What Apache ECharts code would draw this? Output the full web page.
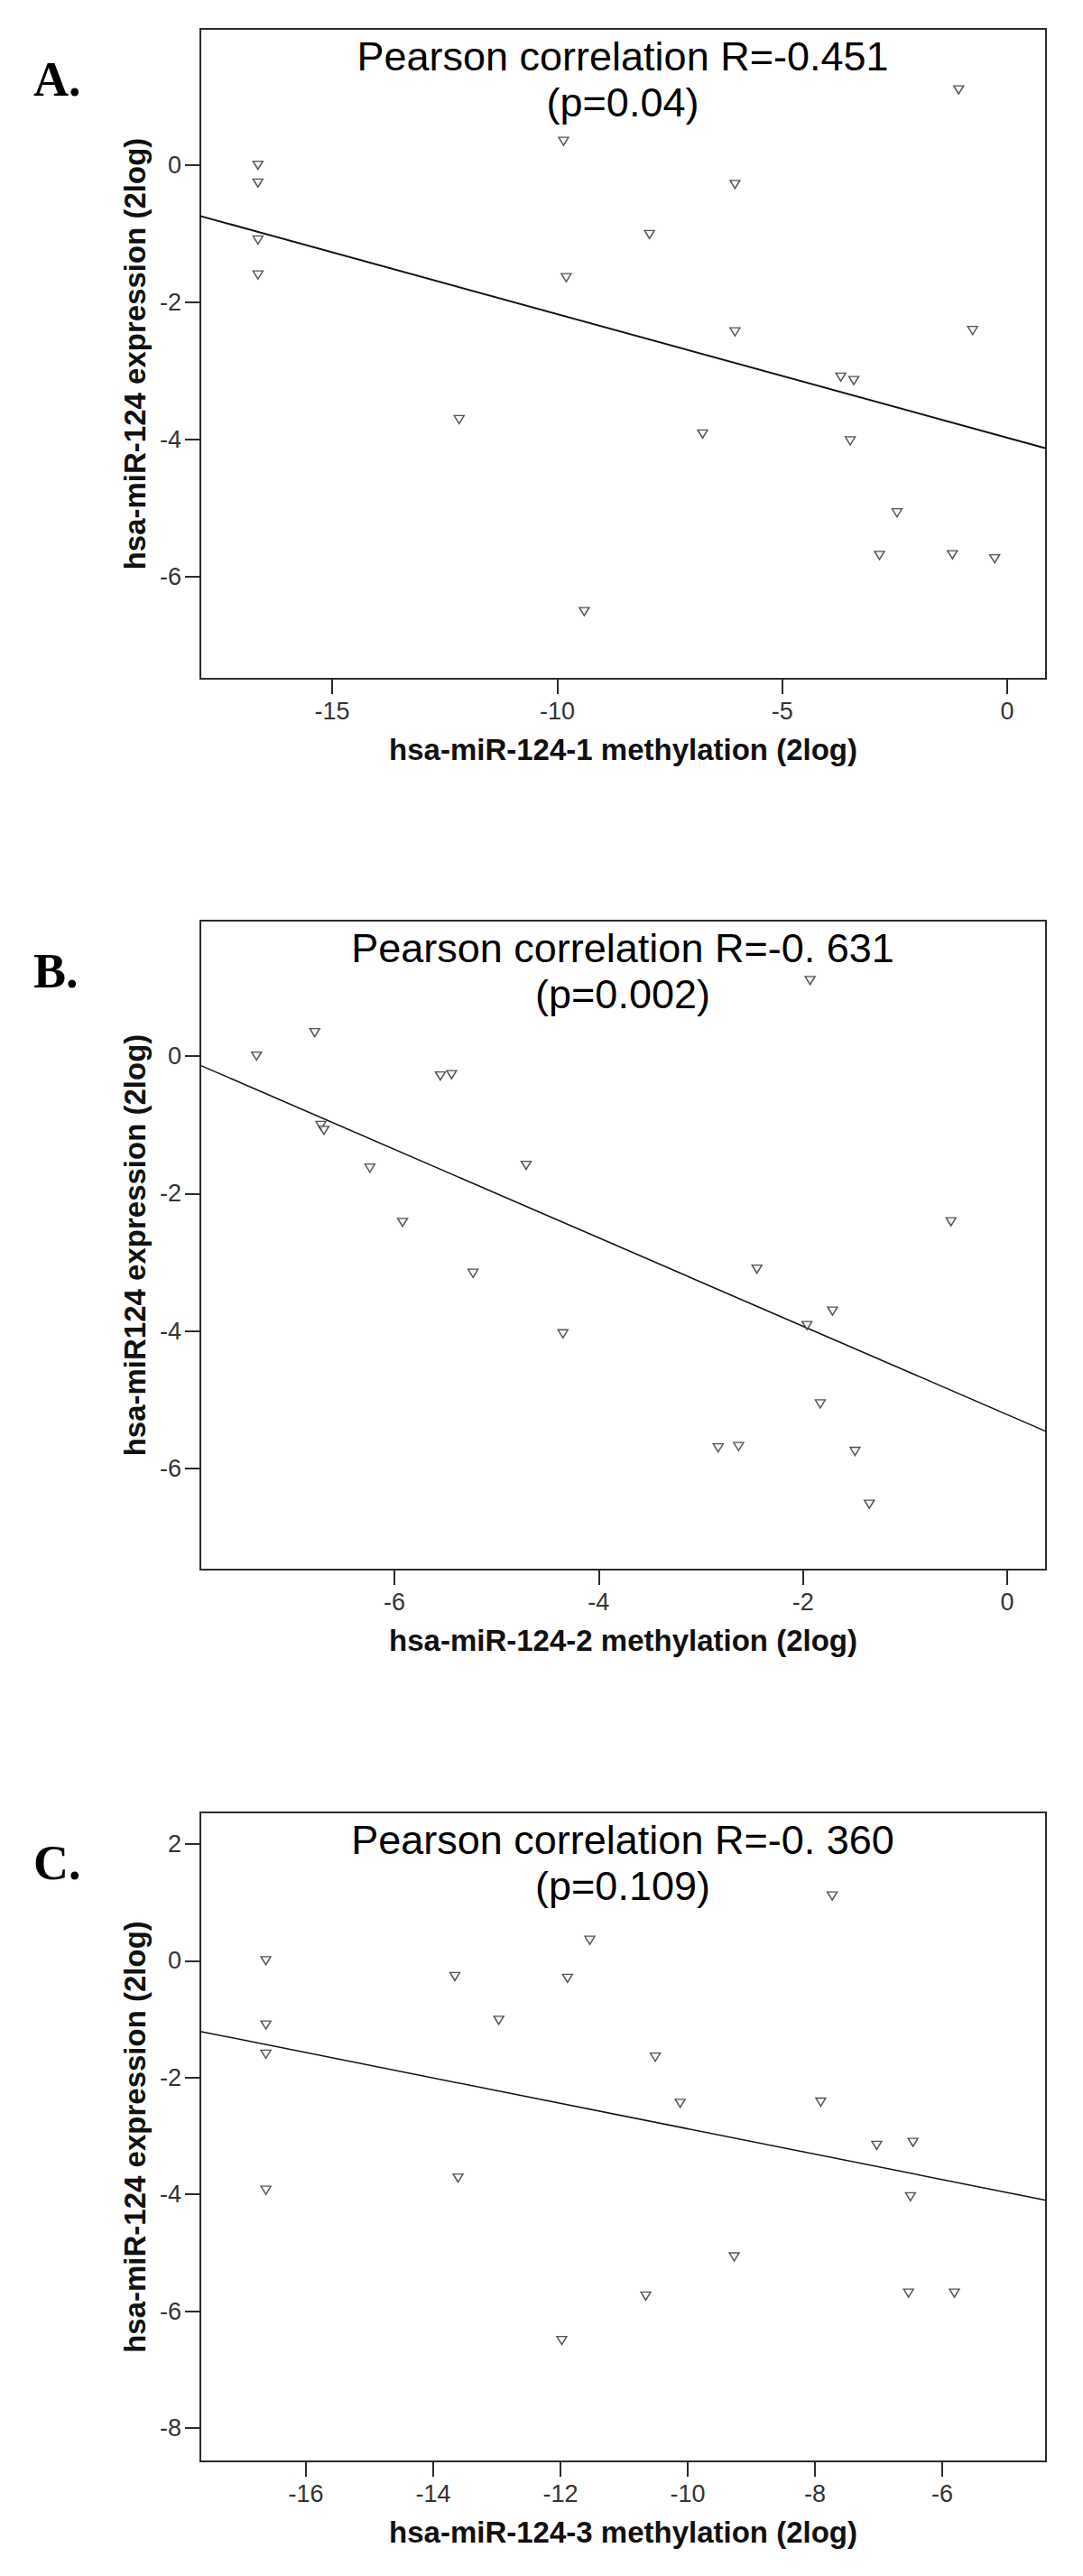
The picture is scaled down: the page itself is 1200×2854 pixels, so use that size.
<!DOCTYPE html>
<html><head><meta charset="utf-8">
<script src="https://cdn.jsdelivr.net/npm/echarts@6/dist/echarts.min.js"></script>
<style>html,body{margin:0;padding:0;background:#fff}#c{width:1200px;height:2854px}</style>
</head><body><div id="c"></div>
<script>
// ---- text ----
const panelLabels = ['A.', 'B.', 'C.'];
const titleR = ['Pearson correlation R=-0.451', 'Pearson correlation R=-0. 631', 'Pearson correlation R=-0. 360'];
const titleP = ['(p=0.04)', '(p=0.002)', '(p=0.109)'];
const xNames = ['hsa-miR-124-1 methylation (2log)', 'hsa-miR-124-2 methylation (2log)', 'hsa-miR-124-3 methylation (2log)'];
const yNames = ['hsa-miR-124 expression (2log)', 'hsa-miR124 expression (2log)', 'hsa-miR-124 expression (2log)'];

// ---- axis ranges & ticks ----
const xRangeA = [-17.93, 0.86];
const xRangeB = [-7.9, 0.38];
const xRangeC = [-17.66, -4.37];
const yRangeA = [-7.49, 1.99];
const yRangeB = [-7.47, 1.97];
const yRangeC = [-8.57, 2.54];
const xTicksA = [-15, -10, -5, 0];
const xTicksB = [-6, -4, -2, 0];
const xTicksC = [-16, -14, -12, -10, -8, -6];
const yTicksA = [-6, -4, -2, 0];
const yTicksB = [-6, -4, -2, 0];
const yTicksC = [-8, -6, -4, -2, 0, 2];

// ---- data (methylation, expression) ----
const pointsA = [
  [-16.65, 0.0], [-16.65, -0.26], [-16.65, -1.09], [-16.65, -1.60],
  [-9.86, 0.35], [-9.80, -1.64], [-7.95, -1.01], [-12.18, -3.71],
  [-6.05, -0.28], [-6.05, -2.43], [-6.77, -3.92], [-9.40, -6.51],
  [-3.70, -3.09], [-3.41, -3.14], [-3.49, -4.02], [-2.45, -5.07],
  [-2.84, -5.69], [-1.22, -5.68], [-0.28, -5.74], [-0.77, -2.41], [-1.08, 1.10]
];
const pointsB = [
  [-7.35, 0.0], [-6.78, 0.34], [-6.72, -1.01], [-6.69, -1.08],
  [-6.24, -1.63], [-5.92, -2.42], [-5.55, -0.29], [-5.44, -0.27],
  [-5.23, -3.16], [-4.71, -1.59], [-4.35, -4.04], [-2.83, -5.70],
  [-2.63, -5.68], [-2.45, -3.10], [-1.96, -3.92], [-1.93, 1.10],
  [-1.71, -3.71], [-1.83, -5.06], [-1.49, -5.75], [-1.35, -6.52], [-0.55, -2.41]
];
const pointsC = [
  [-16.63, 0.0], [-16.63, -1.10], [-16.63, -1.60], [-16.63, -3.93],
  [-13.66, -0.27], [-13.61, -3.72], [-12.97, -1.02], [-11.89, -0.30],
  [-11.54, 0.35], [-11.98, -6.50], [-10.66, -5.74], [-10.51, -1.65],
  [-10.12, -2.44], [-9.27, -5.07], [-7.91, -2.42], [-7.73, 1.11],
  [-7.03, -3.16], [-6.46, -3.11], [-6.50, -4.04], [-6.53, -5.69], [-5.81, -5.69]
];
// fitted lines, endpoints
const fitA = [[-17.93, -0.74], [0.86, -4.13]];
const fitB = [[-7.9, -0.135], [0.38, -5.46]];
const fitC = [[-17.66, -1.21], [-4.37, -4.10]];

// ---- build ----
const gridTops = [32, 1020, 2008];
const gridHeights = [720, 719, 719];
const xRanges = [xRangeA, xRangeB, xRangeC];
const yRanges = [yRangeA, yRangeB, yRangeC];
const xTicks = [xTicksA, xTicksB, xTicksC];
const yTicks = [yTicksA, yTicksB, yTicksC];
const pts = [pointsA, pointsB, pointsC];
const fits = [fitA, fitB, fitC];
const fitWidths = [2, 1.5, 1.5];

const SANS = '"Liberation Sans", Arial, sans-serif';
const ink = '#2b2b2b';

const grids = [], xAxes = [], yAxes = [], series = [], graphics = [];
for (let i = 0; i < 3; i++) {
  grids.push({left: 222, width: 937, top: gridTops[i], height: gridHeights[i], show: true,
    borderColor: ink, borderWidth: 2, backgroundColor: 'transparent', containLabel: false});
  xAxes.push({type: 'value', gridIndex: i, min: xRanges[i][0], max: xRanges[i][1],
    axisLine: {show: true, onZero: false, lineStyle: {color: ink, width: 2}},
    axisTick: {show: true, inside: false, length: 17, lineStyle: {color: ink, width: 2}, customValues: xTicks[i]},
    axisLabel: {customValues: xTicks[i], margin: 22, fontSize: 27, fontFamily: SANS, color: '#333'},
    splitLine: {show: false},
    name: xNames[i], nameLocation: 'middle', nameGap: 62,
    nameTextStyle: {fontSize: 33, fontWeight: 'bold', fontFamily: SANS, color: '#111'}});
  yAxes.push({type: 'value', gridIndex: i, min: yRanges[i][0], max: yRanges[i][1],
    axisLine: {show: true, onZero: false, lineStyle: {color: ink, width: 2}},
    axisTick: {show: true, inside: false, length: 17, lineStyle: {color: ink, width: 2}, customValues: yTicks[i]},
    axisLabel: {customValues: yTicks[i], margin: 21, fontSize: 27, fontFamily: SANS, color: '#333'},
    splitLine: {show: false},
    name: yNames[i], nameLocation: 'middle', nameGap: 48, nameRotate: 90,
    nameTextStyle: {fontSize: 33, fontWeight: 'bold', fontFamily: SANS, color: '#111'}});
  series.push({type: 'line', xAxisIndex: i, yAxisIndex: i, data: fits[i], showSymbol: false,
    lineStyle: {color: '#111', width: fitWidths[i]}, silent: true, z: 2});
  series.push({type: 'scatter', xAxisIndex: i, yAxisIndex: i, data: pts[i],
    symbol: 'triangle', symbolRotate: 180, symbolSize: [11, 9],
    itemStyle: {color: '#f2f2f2', borderColor: '#2b2b2b', borderWidth: 1.4}, z: 3});
  const top = gridTops[i];
  graphics.push({type: 'text', x: 690, y: top + 30, style: {text: titleR[i], fill: '#000',
    font: '45px ' + SANS, align: 'center', verticalAlign: 'middle'}});
  graphics.push({type: 'text', x: 690, y: top + 81, style: {text: titleP[i], fill: '#000',
    font: '45px ' + SANS, align: 'center', verticalAlign: 'middle'}});
  graphics.push({type: 'text', x: 37, y: top + 56, style: {text: panelLabels[i], fill: '#000',
    font: 'bold 54px "Liberation Serif", "Times New Roman", serif', align: 'left', verticalAlign: 'middle'}});
}

const chart = echarts.init(document.getElementById('c'), null, {renderer: 'svg'});
chart.setOption({
  animation: false,
  backgroundColor: '#fff',
  grid: grids, xAxis: xAxes, yAxis: yAxes, series: series,
  graphic: graphics
});
</script>
</body></html>
